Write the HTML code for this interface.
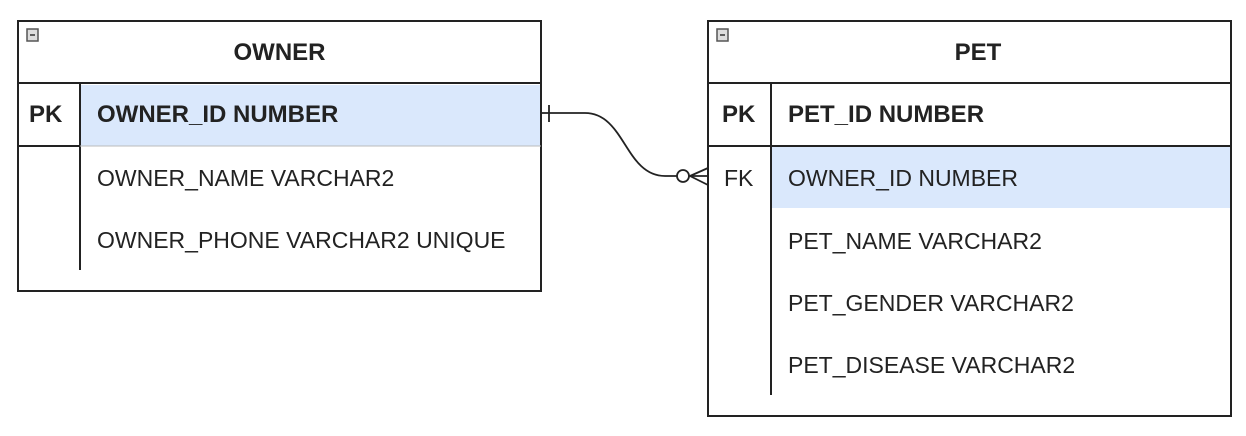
<!DOCTYPE html>
<html><head><style>
body{margin:0;width:1246px;height:436px;background:#fff;position:relative;overflow:hidden;font-family:"Liberation Sans",Arial,sans-serif;color:#222}
.a{position:absolute}
.t{position:absolute;font-size:23px;white-space:nowrap;line-height:26px}
.b{font-weight:bold;font-size:24px}
</style></head><body>
<svg class="a" style="left:0;top:0" width="1246" height="436">
<rect x="80" y="85" width="461" height="61" fill="#dae8fc"/>
<rect x="771" y="147" width="460" height="61" fill="#dae8fc"/>
<g fill="none" stroke="#222" stroke-width="2">
<rect x="18" y="21" width="523" height="270"/>
<line x1="18" y1="83" x2="541" y2="83"/>
<line x1="18" y1="146" x2="80" y2="146"/>
<line x1="80" y1="83" x2="80" y2="270"/>
<rect x="708" y="21" width="523" height="395"/>
<line x1="708" y1="83" x2="1231" y2="83"/>
<line x1="708" y1="146" x2="1231" y2="146"/>
<line x1="771" y1="83" x2="771" y2="395"/>
</g>
<line x1="80" y1="146" x2="541" y2="146" stroke="#bbb" stroke-width="1"/>
<rect x="27" y="29" width="11" height="12" fill="#ddd" stroke="#555" stroke-width="1.5"/>
<line x1="30" y1="35" x2="35" y2="35" stroke="#333" stroke-width="1.5"/>
<rect x="717" y="29" width="11" height="12" fill="#ddd" stroke="#555" stroke-width="1.5"/>
<line x1="720" y1="35" x2="725" y2="35" stroke="#333" stroke-width="1.5"/>
<g fill="none" stroke="#222" stroke-width="1.8">
<path d="M541 113 L585 113 C625 113 625 176 665 176 L677 176"/>
<line x1="549" y1="105" x2="549" y2="122"/>
<circle cx="683" cy="176" r="6"/>
<line x1="689" y1="176" x2="708" y2="176"/>
<line x1="690" y1="176" x2="708" y2="168"/>
<line x1="690" y1="176" x2="708" y2="185"/>
</g>
</svg>
<div class="t b" style="left:0;width:559px;top:40px;text-align:center">OWNER</div>
<div class="t b" style="left:29px;top:102px">PK</div>
<div class="t b" style="left:97px;top:102px">OWNER_ID NUMBER</div>
<div class="t" style="left:97px;top:165px">OWNER_NAME VARCHAR2</div>
<div class="t" style="left:97px;top:227px">OWNER_PHONE VARCHAR2 UNIQUE</div>
<div class="t b" style="left:708px;width:540px;top:40px;text-align:center">PET</div>
<div class="t b" style="left:722px;top:102px">PK</div>
<div class="t b" style="left:788px;top:102px">PET_ID NUMBER</div>
<div class="t" style="left:724px;top:165px">FK</div>
<div class="t" style="left:788px;top:165px">OWNER_ID NUMBER</div>
<div class="t" style="left:788px;top:228px">PET_NAME VARCHAR2</div>
<div class="t" style="left:788px;top:290px">PET_GENDER VARCHAR2</div>
<div class="t" style="left:788px;top:352px">PET_DISEASE VARCHAR2</div>
</body></html>
